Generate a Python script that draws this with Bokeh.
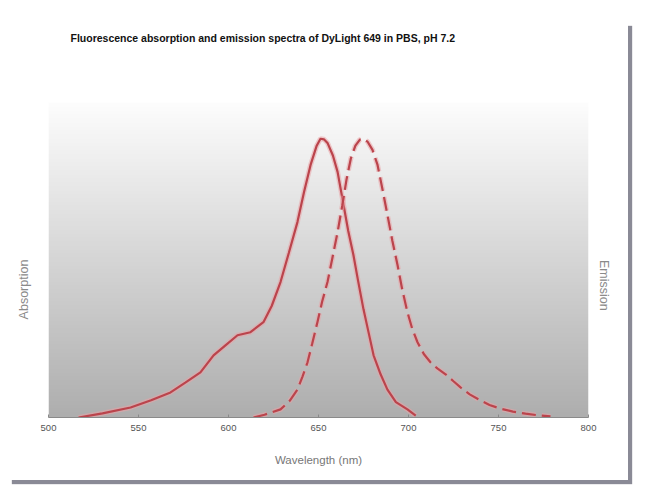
import numpy as np
from math import pi
from bokeh.plotting import figure
from bokeh.models import Range1d, FixedTicker, Title, LinearAxis
from bokeh.embed import file_html
from bokeh.resources import INLINE

title_text = "Fluorescence absorption and emission spectra of DyLight 649 in PBS, pH 7.2"
x_label = "Wavelength (nm)"
left_label = "Absorption"
right_label = "Emission"
x_ticks = [500, 550, 600, 650, 700, 750, 800]

abs_wl = [516.7, 530, 545.6, 557, 567.8, 576, 584.4, 591.7, 598.3, 605, 612.2, 619.4,
          624, 628.9, 633.5, 638.3, 642, 645.6, 649, 651.1, 653, 655, 658, 660.6, 663.9,
          666.5, 669.4, 672, 675, 678, 680.6, 684.5, 688.3, 693, 699.4, 704]
abs_val = [0.0, 0.015, 0.036, 0.062, 0.09, 0.125, 0.162, 0.223, 0.259, 0.295, 0.306, 0.342,
           0.4, 0.486, 0.59, 0.701, 0.81, 0.906, 0.975, 1.0, 0.998, 0.985, 0.94, 0.881, 0.763,
           0.67, 0.583, 0.49, 0.388, 0.3, 0.223, 0.155, 0.10, 0.055, 0.029, 0.007]

em_wl = [613.9, 620, 628.9, 634, 638.3, 641, 643.9, 646.5, 649.4, 652, 655, 657.8, 660.6,
         663.2, 665.6, 668, 670.5, 673, 675, 677.2, 680, 682.8, 685.5, 688.3, 691, 693.9,
         696.5, 699.4, 702, 705, 708.5, 712.2, 716, 720.6, 725, 728.9, 734, 740, 745, 751,
         758, 765, 772, 778.9]
em_val = [0.0, 0.01, 0.029, 0.06, 0.10, 0.145, 0.198, 0.265, 0.342, 0.415, 0.486, 0.575,
          0.665, 0.76, 0.855, 0.93, 0.975, 0.997, 1.0, 0.99, 0.96, 0.906, 0.82, 0.727, 0.635,
          0.547, 0.46, 0.378, 0.32, 0.27, 0.228, 0.198, 0.176, 0.155, 0.13, 0.108, 0.083,
          0.061, 0.045, 0.032, 0.021, 0.014, 0.008, 0.004]

x0, x1 = 500, 800
y0, y1 = 0.0, 1.13

p = figure(width=620, height=458, x_range=Range1d(x0, x1), y_range=Range1d(y0, y1),
           title=None, output_backend="svg", toolbar_location=None,
           min_border_left=40, min_border_right=40, min_border_top=80, min_border_bottom=63)
p.margin = (22, 0, 0, 8)
p.styles = {"box-shadow": "4px 4px 1px #8a8a96"}
p.background_fill_color = "white"
p.border_fill_color = "white"
p.outline_line_color = None
p.grid.visible = False

# gradient background (decorative)
n = 256
t = np.linspace(0, 1, n)
g = (174 + (253 - 174) * t).astype(np.uint32)
img = np.zeros((n, 1), dtype=np.uint32)
img[:, 0] = (255 << 24) | (g << 16) | (g << 8) | g
p.image_rgba(image=[img], x=x0, y=y0, dw=x1 - x0, dh=y1 - y0)

red = "#bb444c"
halo = "#eaa2a6"
p.line(abs_wl, abs_val, line_color=halo, line_width=5, line_alpha=0.55)
p.line(abs_wl, abs_val, line_color=red, line_width=2.2)
p.line(em_wl, em_val, line_color=halo, line_width=5, line_alpha=0.55, line_dash="14 6")
p.line(em_wl, em_val, line_color=red, line_width=2.2, line_dash="14 6")

font = "Liberation Sans"

xa = p.xaxis[0]
xa.ticker = FixedTicker(ticks=x_ticks)
xa.axis_label = x_label
xa.axis_label_text_font = font
xa.axis_label_text_font_size = "11.5px"
xa.axis_label_text_font_style = "normal"
xa.axis_label_text_color = "#777777"
xa.axis_label_standoff = 20
xa.major_label_text_font = font
xa.major_label_text_font_size = "9.5px"
xa.major_label_text_color = "#555555"
xa.major_label_standoff = 7
xa.axis_line_color = "#8a8a8a"
xa.major_tick_line_color = "#8a8a8a"
xa.major_tick_in = 3
xa.major_tick_out = 0
xa.minor_tick_line_color = None

# spacer between frame and title (closest to frame), then the title
spacer = Title(text=" ", text_font_size="2px", standoff=48)
p.add_layout(spacer, "above")
main_title = Title(text=title_text, align="left", offset=22, vertical_align="top",
                   standoff=10, text_font=font, text_font_size="10.5px",
                   text_font_style="bold", text_color="#111111")
p.add_layout(main_title, "above")

ya = p.yaxis[0]
ya.ticker = FixedTicker(ticks=[])
ya.axis_line_color = None
ya.major_tick_line_color = None
ya.minor_tick_line_color = None
ya.axis_label = left_label + "\u00a0" * 17
ya.axis_label_standoff = 18

ra = LinearAxis(ticker=FixedTicker(ticks=[]), axis_line_color=None,
                major_tick_line_color=None, minor_tick_line_color=None,
                axis_label=right_label + "\u00a0" * 21)
ra.axis_label_orientation = -pi / 2
ra.axis_label_standoff = 15
p.add_layout(ra, "right")

for a in (ya, ra):
    a.axis_label_text_font = font
    a.axis_label_text_font_size = "12.5px"
    a.axis_label_text_font_style = "normal"
    a.axis_label_text_color = "#8a8a8a"

open("out.html", "w").write(file_html(p, INLINE))
